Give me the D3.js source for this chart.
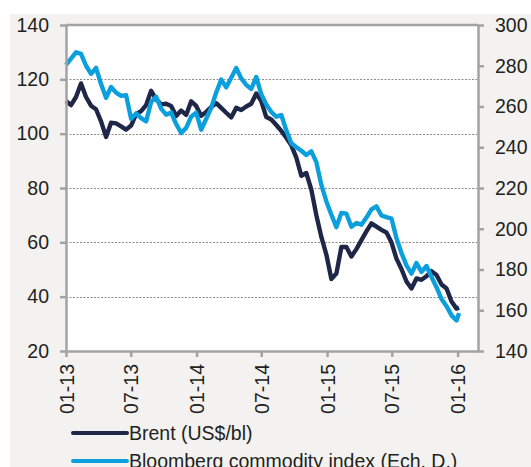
<!DOCTYPE html>
<html>
<head>
<meta charset="utf-8">
<script src="https://cdn.jsdelivr.net/npm/d3@7"></script>
<style>
  body { margin: 0; background: #fff; }
  svg { display: block; font-family: "Liberation Sans", Arial, sans-serif; }
  .grid line { stroke: #8c8c8c; stroke-width: 1; stroke-dasharray: 2,1.5; }
  .axis path, .axis line { stroke: #a3a3a3; stroke-width: 2.5; }
  .axis text { fill: #231f20; font-size: 19.5px; }
  .series { fill: none; stroke-width: 4.4; stroke-linejoin: round; }
</style>
</head>
<body>
<script>
// fortnightly dates
var dates = [
  "2013-01-01","2013-01-15","2013-01-29","2013-02-12","2013-02-26","2013-03-12","2013-03-26","2013-04-09","2013-04-23",
  "2013-05-07","2013-05-21","2013-06-04","2013-06-18","2013-07-02","2013-07-16","2013-07-30","2013-08-13","2013-08-27",
  "2013-09-10","2013-09-24","2013-10-08","2013-10-22","2013-11-05","2013-11-19","2013-12-03","2013-12-17","2013-12-31",
  "2014-01-14","2014-01-28","2014-02-11","2014-02-25","2014-03-11","2014-03-25","2014-04-08","2014-04-22","2014-05-06",
  "2014-05-20","2014-06-03","2014-06-17","2014-07-01","2014-07-15","2014-07-29","2014-08-12","2014-08-26","2014-09-09",
  "2014-09-23","2014-10-07","2014-10-21","2014-11-04","2014-11-18","2014-12-02","2014-12-16","2014-12-30",
  "2015-01-13","2015-01-27","2015-02-10","2015-02-24","2015-03-10","2015-03-24","2015-04-07","2015-04-21","2015-05-05",
  "2015-05-19","2015-06-02","2015-06-16","2015-06-30","2015-07-14","2015-07-28","2015-08-11","2015-08-25","2015-09-08",
  "2015-09-22","2015-10-06","2015-10-20","2015-11-03","2015-11-17","2015-12-01","2015-12-15","2015-12-29","2016-01-05"
];

var brent = [
  112, 110.5, 113.5, 118.5, 113.5, 110.3, 109, 104.5, 98.8,
  104, 103.8, 102.7, 101.5, 103, 107.2, 108.3, 110.5, 115.8,
  112.6, 110.8, 111, 110.2, 106.5, 108.5, 106.9, 111.9, 110.2,
  106.6, 108, 109.8, 111.2, 109.5, 107.7, 106, 109.5, 108.7,
  110, 111, 114.8, 112, 106.1, 105.2, 103.2, 101, 98.5,
  95.7, 91.2, 84.5, 85.5, 79.4, 70, 62, 55.5,
  46.5, 48.5, 58.3, 58.3, 54.8, 57.5, 60.8, 64, 67,
  65.8, 64.6, 63.6, 60, 54, 50.2, 45.6, 43, 46.7,
  46.2, 47.5, 49.4, 48, 44.5, 43, 38.2, 35.6, 36
];

var bcom = [
  280.4, 283.5, 286.6, 285.8, 280, 276, 279, 271, 264.3,
  269.6, 266.8, 265.2, 265.6, 254, 256.6, 254.3, 252.7, 262.2,
  264.8, 259, 256, 257, 251.4, 247, 249.5, 255, 257,
  248.6, 254, 259.3, 266.9, 273.2, 269.4, 274.1, 278.9, 273.8,
  270.6, 268.6, 274.5, 266, 261, 257.3, 255, 255.8, 248.3,
  242, 240, 238.3, 236.2, 238, 232.7, 221.5, 213.4,
  206.9, 200.8, 207.8, 207.4, 201, 202.8, 202, 205.5, 209.5,
  211, 206.5, 205.7, 205, 195.4, 188.1, 182, 178, 183.2,
  178.8, 181.7, 176.3, 171.3, 165.5, 162, 157.5, 155, 158.6
];

var leftTicks = [20, 40, 60, 80, 100, 120, 140];
var rightTicks = [140, 160, 180, 200, 220, 240, 260, 280, 300];
var gridTicks = [40, 60, 80, 100, 120];
var xTickDates = ["2013-01-01","2013-07-01","2014-01-01","2014-07-01","2015-01-01","2015-07-01","2016-01-01"];
var seriesNames = ["Brent (US$/bl)", "Bloomberg commodity index (Ech. D.)"];
var seriesColors = ["#1f2748", "#0c9fde"];

var drawChart = function(){
    var parse = d3.timeParse("%Y-%m-%d");
    var left = 66, right = 478, top = 25, bottom = 351;

    var svg = d3.select("body").append("svg")
        .attr("width", 531)
        .attr("height", 467);

    svg.append("rect")
        .attr("x", 10).attr("y", 14)
        .attr("width", 521).attr("height", 453)
        .attr("fill", "#f3f2f0");
    svg.append("rect")
        .attr("x", left).attr("y", top)
        .attr("width", right - left).attr("height", bottom - top)
        .attr("fill", "#fff");

    var x = d3.scaleTime()
        .domain([parse("2013-01-01"), parse("2016-02-27")])
        .range([left, right]);
    var yL = d3.scaleLinear().domain([20, 140]).range([bottom, top]);
    var yR = d3.scaleLinear().domain([140, 300]).range([bottom, top]);

    // dotted grid
    svg.append("g").attr("class", "grid")
        .selectAll("line").data(gridTicks).enter().append("line")
        .attr("x1", left).attr("x2", right)
        .attr("y1", function(d){ return Math.round(yL(d)) + 0.5; })
        .attr("y2", function(d){ return Math.round(yL(d)) + 0.5; });

    // top border
    svg.append("line")
        .attr("x1", left).attr("x2", right)
        .attr("y1", top).attr("y2", top)
        .attr("stroke", "#a3a3a3").attr("stroke-width", 2.5);

    var lineL = d3.line()
        .x(function(d, i){ return x(parse(dates[i])); })
        .y(function(d){ return yL(d); });
    var lineR = d3.line()
        .x(function(d, i){ return x(parse(dates[i])); })
        .y(function(d){ return yR(d); });

    svg.append("path").datum(brent)
        .attr("class", "series")
        .attr("stroke", seriesColors[0])
        .attr("d", lineL);
    svg.append("path").datum(bcom)
        .attr("class", "series")
        .attr("stroke", seriesColors[1])
        .attr("d", lineR);

    var yAxisL = d3.axisLeft(yL).tickValues(leftTicks).tickSize(6).tickPadding(11).tickSizeOuter(0);
    svg.append("g").attr("class", "axis")
        .attr("transform", "translate(" + left + ",0)")
        .call(yAxisL);

    var yAxisR = d3.axisRight(yR).tickValues(rightTicks).tickSize(6).tickPadding(11).tickSizeOuter(0);
    svg.append("g").attr("class", "axis")
        .attr("transform", "translate(" + right + ",0)")
        .call(yAxisR);

    var xAxis = d3.axisBottom(x)
        .tickValues(xTickDates.map(parse))
        .tickFormat(d3.timeFormat("%m-%y"))
        .tickSize(6).tickSizeOuter(0);
    var gx = svg.append("g").attr("class", "axis")
        .attr("transform", "translate(0," + bottom + ")")
        .call(xAxis);
    gx.selectAll("text")
        .attr("transform", "rotate(-90)")
        .attr("text-anchor", "end")
        .attr("x", -13)
        .attr("y", 0)
        .attr("dy", "0.36em");

    // legend (second entry runs off the bottom edge, as in the source)
    var lg = svg.append("g").selectAll("g").data(seriesNames).enter().append("g")
        .attr("transform", function(d, i){ return "translate(73," + (433 + i * 28) + ")"; });
    lg.append("line")
        .attr("x1", 0).attr("x2", 54)
        .attr("stroke", function(d, i){ return seriesColors[i]; })
        .attr("stroke-width", 4)
        .attr("stroke-linecap", "round");
    lg.append("text")
        .attr("x", 56).attr("dy", "0.36em")
        .attr("fill", "#231f20")
        .style("font-size", "19.5px")
        .text(function(d){ return d; });
}

window.onload = drawChart;
</script>
</body>
</html>
